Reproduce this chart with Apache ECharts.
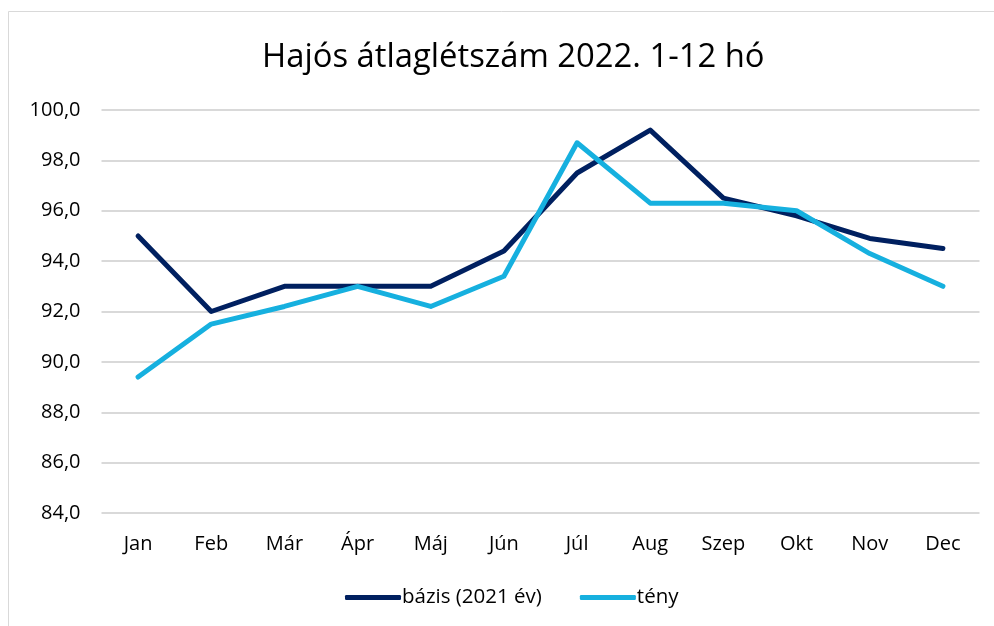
<!DOCTYPE html>
<html><head><meta charset="utf-8">
<script src="https://cdn.jsdelivr.net/npm/echarts@6/dist/echarts.min.js"></script>
<style>html,body{margin:0;padding:0;background:#fff}#c{width:994px;height:626px}</style>
</head><body><div id="c"></div>
<script>
const categories = ['Jan','Feb','Már','Ápr','Máj','Jún','Júl','Aug','Szep','Okt','Nov','Dec'];
const bazis = [95.0, 92.0, 93.0, 93.0, 93.0, 94.4, 97.5, 99.2, 96.5, 95.8, 94.9, 94.5];
const teny = [89.4, 91.5, 92.2, 93.0, 92.2, 93.4, 98.7, 96.3, 96.3, 96.0, 94.3, 93.0];
const seriesNames = ['bázis (2021 év)', 'tény'];
const FONT = 'Open Sans';
const chart = echarts.init(document.getElementById('c'), null, {renderer:'canvas'});
chart.setOption({
  animation:false,
  backgroundColor:'#fff',
  graphic:[{type:'rect',shape:{x:8.5,y:11.5,width:1000,height:700},style:{fill:'none',stroke:'#d9d9d9',lineWidth:1},silent:true}],
  title:{text:'Hajós átlaglétszám 2022. 1-12 hó',left:257,top:36,
    textStyle:{fontFamily:FONT,fontSize:32.8,fontWeight:'normal',color:'#000'}},
  grid:{left:101.5,right:14.5,top:110,bottom:113,containLabel:false},
  legend:{bottom:13,left:340,itemWidth:56,itemHeight:5,itemGap:38,
    icon:'roundRect',
    textStyle:{fontFamily:FONT,fontSize:20.5,color:'#000',padding:[0,0,0,-4]},
    data:seriesNames},
  xAxis:{type:'category',data:categories,boundaryGap:true,
    axisLine:{show:false},axisTick:{show:false},
    axisLabel:{fontFamily:FONT,fontSize:20,color:'#000',margin:21}},
  yAxis:{type:'value',min:84,max:100,interval:2,
    axisLine:{show:false},axisTick:{show:false},
    splitLine:{lineStyle:{color:'#d9d9d9',width:2}},
    axisLabel:{fontFamily:FONT,fontSize:20,color:'#000',margin:21,
      formatter:v=>v.toFixed(1).replace('.',',')}},
  series:[
    {name:seriesNames[0],type:'line',data:bazis,symbol:'none',
      lineStyle:{color:'#002060',width:5,cap:'round',join:'round'},itemStyle:{color:'#002060'}},
    {name:seriesNames[1],type:'line',data:teny,symbol:'none',
      lineStyle:{color:'#16B0DF',width:5,cap:'round',join:'round'},itemStyle:{color:'#16B0DF'}}
  ]
});
</script></body></html>
